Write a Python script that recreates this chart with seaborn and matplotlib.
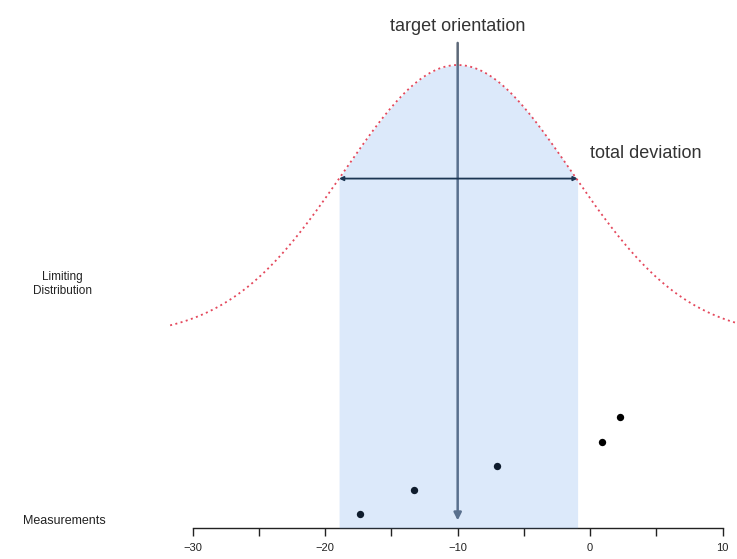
import numpy as np
import pandas as pd
import matplotlib
matplotlib.use("Agg")
import matplotlib.pyplot as plt
import seaborn as sns

# measurements (orientation, row)
meas_x = [-17.4, -13.3, -7.0, 0.9, 2.25]
meas_y = [1, 2, 3, 4, 5]

# limiting distribution (normal curve) parameters
target = -10.0
sigma = 8.6
curve_base = 8.33
curve_amp = 11.2
curve_lo, curve_hi = -31.7, 11.7
dev_lo, dev_hi = -18.95, -0.95

tick_pos = [-30, -25, -20, -15, -10, -5, 0, 5, 10]
tick_labels = ["\u221230", "", "\u221220", "", "\u221210", "", "0", "", "10"]

sns.set_style("white")
plt.rcParams["font.family"] = ["Liberation Sans", "DejaVu Sans"]

fig = plt.figure(figsize=(7.37, 5.59), dpi=100)
ax = fig.add_axes([0, 0, 1, 1])
ax.set_xlim(-44.54, 11.08)
ax.set_ylim(-0.84, 22.21)
axis_y = 0.44


def limiting(x):
    return curve_base + curve_amp * np.exp(-0.5 * ((x - target) / sigma) ** 2)


xs = np.linspace(curve_lo, curve_hi, 300)
curve = pd.DataFrame({"x": xs, "y": limiting(xs)})
xs_dev = np.linspace(dev_lo, dev_hi, 200)

# target orientation arrow
ax.annotate("", xy=(target, 0.75), xytext=(target, 20.44),
            arrowprops=dict(arrowstyle="-|>", color="#5c6878", lw=1.8,
                            mutation_scale=11, shrinkA=0, shrinkB=0),
            zorder=1)
# total deviation arrow
ax.annotate("", xy=(dev_lo, limiting(dev_lo)), xytext=(dev_hi, limiting(dev_lo)),
            arrowprops=dict(arrowstyle="<|-|>", color="#10202f", lw=1.3,
                            mutation_scale=6, shrinkA=0, shrinkB=0),
            zorder=1)

meas = pd.DataFrame({"x": meas_x, "y": meas_y})
sns.scatterplot(data=meas, x="x", y="y", color="black", s=28, linewidth=0,
                ax=ax, zorder=2)

ax.fill_between(xs_dev, axis_y, limiting(xs_dev), color=(80/255, 145/255, 230/255),
                alpha=0.2, lw=0, zorder=3)

sns.lineplot(data=curve, x="x", y="y", color="#e4485c", lw=1.3,
             linestyle=(0, (1.1, 1.9)), ax=ax, zorder=4)

ax.text(target, 21.1, "target orientation", ha="center", va="center",
        fontsize=13, color="#333333")
ax.text(0.0, (538.6 - 153) / 24.25, "total deviation", ha="left", va="center",
        fontsize=13, color="#333333")
ax.text(-39.8, (538.6 - 284) / 24.25, "Limiting\nDistribution", ha="center",
        va="center", fontsize=8.5, color="#222222", linespacing=1.3)
ax.text(-39.7, (538.6 - 521) / 24.25, "Measurements", ha="center", va="center",
        fontsize=9, color="#222222")

for s in ["left", "top", "right"]:
    ax.spines[s].set_visible(False)
ax.spines["bottom"].set_position(("data", axis_y))
ax.spines["bottom"].set_bounds(-30, 10)
ax.spines["bottom"].set_color("#222222")
ax.spines["bottom"].set_linewidth(1.0)
ax.set_xticks(tick_pos)
ax.set_xticklabels(tick_labels)
ax.set_yticks([])
ax.tick_params(axis="x", direction="out", length=5.5, width=1.0, color="#222222",
               labelsize=8, pad=5, labelcolor="#222222", bottom=True)
ax.set_xlabel("")
ax.set_ylabel("")
if ax.get_legend():
    ax.get_legend().remove()

fig.savefig("out.png", dpi=100)
